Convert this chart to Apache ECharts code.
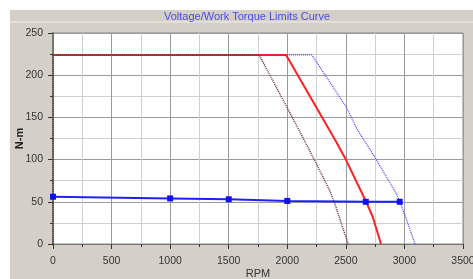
<!DOCTYPE html>
<html>
<head>
<meta charset="utf-8">
<script src="https://cdn.jsdelivr.net/npm/echarts@6/dist/echarts.min.js"></script>
<style>
  html, body { margin: 0; padding: 0; background: #fff; }
  #chart { width: 473px; height: 279px; }
</style>
</head>
<body>
<div id="chart"></div>
<script>
// torque limit curves, [rpm, N-m]
const redLimit = [[0, 224], [1990, 224], [2410, 123], [2500, 100], [2670, 51], [2730, 32], [2800, 0]];
const brownLimit = [[0, 0], [0, 224], [1760, 224], [2100, 135], [2230, 100], [2360, 64], [2400, 50], [2460, 25], [2520, 0]];
const blueLimit = [[1760, 224], [2210, 224], [2500, 163], [2600, 135], [2760, 100], [2930, 60], [2960, 50], [3010, 32], [3090, 0]];
const workPoints = [[0, 56], [1000, 54], [1500, 53], [2000, 51], [2670, 50], [2960, 50]];

const xTicks = { min: 0, max: 3500, step: 500 };
const yTicks = { min: 0, max: 250, step: 50 };

const chart = echarts.init(document.getElementById("chart"));

const gridLine = { show: true, lineStyle: { color: "#9a9a9a", width: 1 } };
const minorLine = { show: true, lineStyle: { color: "#d0d0d0", width: 1 } };
const labelStyle = { color: "#333", fontSize: 10.5, fontFamily: "Liberation Sans", formatter: (v) => String(v) };

const option = {
  animation: false,
  backgroundColor: "#fff",
  graphic: [
    { type: "rect", z: -10, shape: { x: 10, y: 10, width: 463, height: 269 }, style: { fill: "#d4d0c8" } },
    { type: "line", z: -9, shape: { x1: 10, y1: 22, x2: 473, y2: 22 }, style: { stroke: "#f2f0ec", lineWidth: 1 } },
  ],
  title: {
    text: "Voltage/Work Torque Limits Curve",
    left: 242,
    textAlign: "center",
    top: 6,
    textStyle: { color: "#4a4ae8", fontSize: 11, fontWeight: "normal", fontFamily: "Liberation Sans" },
  },
  grid: {
    left: 53, right: 10, top: 33, bottom: 35,
    outerBoundsMode: "none",
    containLabel: false,
    show: true, backgroundColor: "#fff", borderColor: "#888", borderWidth: 1,
  },
  xAxis: {
    type: "value",
    min: xTicks.min, max: xTicks.max, interval: xTicks.step,
    name: "RPM", nameLocation: "middle", nameGap: 24, nameMoveOverlap: false,
    nameTextStyle: { color: "#333", fontSize: 11, fontFamily: "Liberation Sans" },
    axisLine: { show: true, lineStyle: { color: "#777" } },
    axisTick: { show: true, length: 5, lineStyle: { color: "#333" } },
    minorTick: { show: true, splitNumber: 2, length: 3, lineStyle: { color: "#333" } },
    axisLabel: Object.assign({ margin: 12 }, labelStyle),
    splitLine: gridLine,
    minorSplitLine: minorLine,
  },
  yAxis: {
    type: "value",
    min: yTicks.min, max: yTicks.max, interval: yTicks.step,
    name: "N-m", nameLocation: "middle", nameGap: 28, nameRotate: 90, nameMoveOverlap: false,
    nameTextStyle: { color: "#222", fontSize: 11, fontWeight: "bold", fontFamily: "Liberation Sans" },
    axisLine: { show: true, lineStyle: { color: "#777", width: 2 } },
    axisTick: { show: true, length: 5, lineStyle: { color: "#333" } },
    minorTick: { show: true, splitNumber: 2, length: 3, lineStyle: { color: "#333" } },
    axisLabel: Object.assign({ margin: 10 }, labelStyle),
    splitLine: gridLine,
    minorSplitLine: minorLine,
  },
  series: [
    {
      name: "Voltage limit", type: "line", data: redLimit, showSymbol: false,
      lineStyle: { color: "#ff2020", width: 2 }, z: 3,
    },
    {
      name: "Low voltage limit", type: "line", data: brownLimit, showSymbol: false,
      lineStyle: { color: "#6a3030", width: 1.5, type: [1, 1] }, z: 4,
    },
    {
      name: "High voltage limit", type: "line", data: blueLimit, showSymbol: false,
      lineStyle: { color: "#3a3aff", width: 1.2, type: [1, 1] }, z: 5,
    },
    {
      name: "Work torque", type: "line", data: workPoints,
      symbol: "rect", symbolSize: 6,
      itemStyle: { color: "#1010ff" },
      lineStyle: { color: "#2020ff", width: 2 }, z: 6,
    },
  ],
};

chart.setOption(option);
</script>
</body>
</html>
